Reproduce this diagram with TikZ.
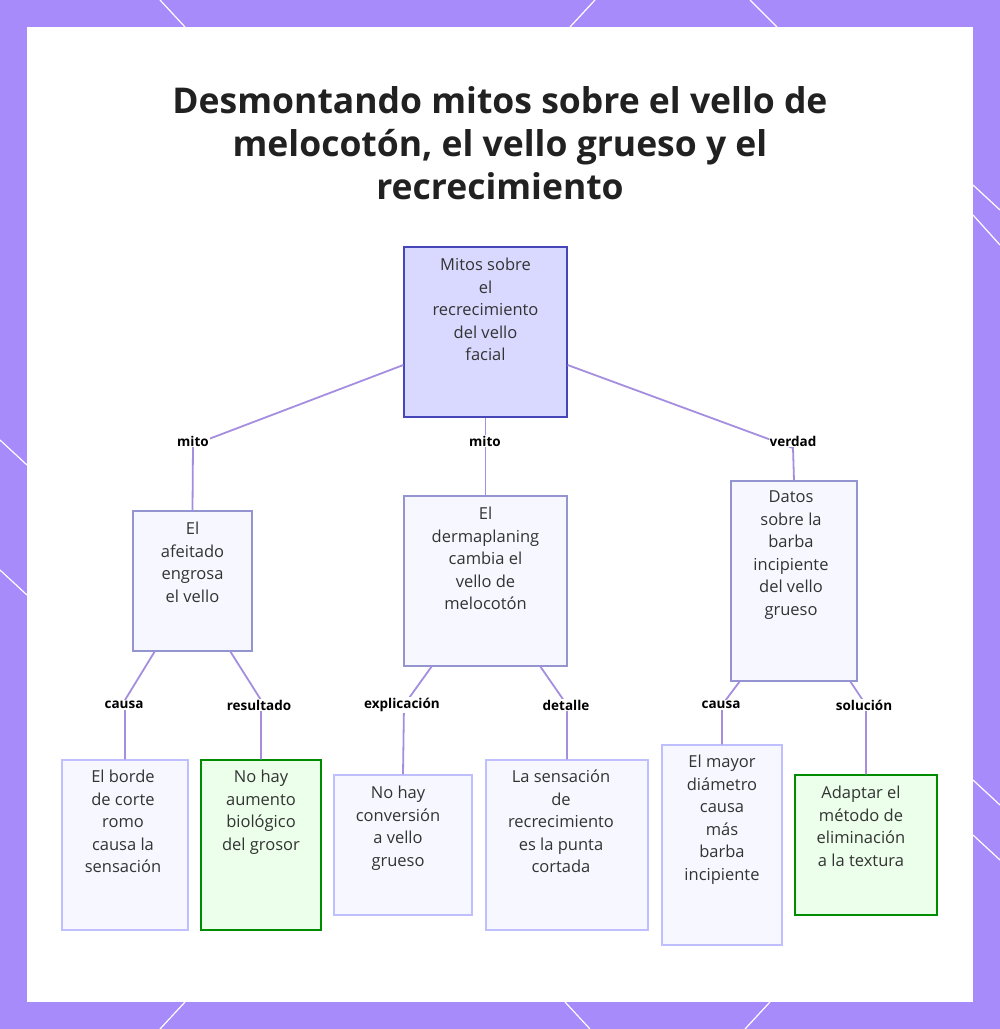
\documentclass[tikz,border=0pt]{standalone}
\usepackage{fontspec}
\setmainfont{Open Sans}
\definecolor{edc}{HTML}{A58EE0}
\definecolor{frame}{HTML}{A78BFA}
\begin{document}
\begin{tikzpicture}[x=1pt,y=-1pt,
 box/.style={draw=#1,line width=1.3pt,inner sep=0pt},
 blue/.style={box=blue!40!gray!60,fill=blue!3},
 green/.style={box=green!55!black,fill=green!8},
 leafb/.style={box=blue!25,fill=blue!3},
 tx/.style={font=\fontsize{16.5}{22.5}\selectfont,text=black!80,align=center,anchor=north,inner sep=0pt},
 ed/.style={draw=edc,line width=1.8pt},
 lab/.style={font=\bfseries\fontsize{13.5}{16}\selectfont,fill=white,inner sep=1pt}]
\fill[frame] (0,0) rectangle (1000,1029);
\useasboundingbox (0,0) rectangle (1000,1029);
\foreach \a/\b/\c/\d in {160/0/185/27, 570/27/595/0, 750/0/777/27, 973/185/1000/210, 973/215/1000/245, 973/780/1000/805, 973/835/1000/860, 0/440/27/465, 0/570/27/595, 160/1029/185/1002, 565/1002/590/1029, 745/1029/770/1002}
 \draw[white,line width=1.2pt] (\a,\b) -- (\c,\d);
\fill[white] (27,27) rectangle (973,1002);
\node[font=\bfseries\fontsize{35.5}{43}\selectfont,text=black!87,align=center] (title) at (500,143) {Desmontando mitos sobre el vello de\\melocotón, el vello grueso y el\\recrecimiento};
\node[box=blue!45!gray,fill=blue!15,minimum width=163,minimum height=170] (root) at (485.5,332) {};
\node[tx] at (485.5,258) {Mitos sobre\\el\\recrecimiento\\del vello\\facial};
\node[blue,minimum width=119,minimum height=140] (A) at (192.5,581) {};
\node[tx] at (192.5,522) {El\\afeitado\\engrosa\\el vello};
\node[blue,minimum width=163,minimum height=170] (B) at (485.5,581) {};
\node[tx] at (485.5,507) {El\\dermaplaning\\cambia el\\vello de\\melocotón};
\node[blue,minimum width=126,minimum height=200] (C) at (794,581) {};
\node[tx] at (791,491) {Datos\\sobre la\\barba\\incipiente\\del vello\\grueso};
\node[leafb,minimum width=126,minimum height=170] (L1) at (125,845) {};
\node[tx] at (123,770) {El borde\\de corte\\romo\\causa la\\sensación};
\node[green,minimum width=120,minimum height=170] (L2) at (261,845) {};
\node[tx] at (261,770) {No hay\\aumento\\biológico\\del grosor};
\node[leafb,minimum width=138,minimum height=140] (L3) at (403,845) {};
\node[tx] at (398,786) {No hay\\conversión\\a vello\\grueso};
\node[leafb,minimum width=162,minimum height=170] (L4) at (567,845) {};
\node[tx] at (561,770) {La sensación\\de\\recrecimiento\\es la punta\\cortada};
\node[leafb,minimum width=120,minimum height=200] (L5) at (722,845) {};
\node[tx] at (722,755) {El mayor\\diámetro\\causa\\más\\barba\\incipiente};
\node[green,minimum width=142,minimum height=140] (L6) at (866,845) {};
\node[tx] at (861,786) {Adaptar el\\método de\\eliminación\\a la textura};
\draw[ed] (root.west|-0,365) -- (193,445) -- (A.north);
\draw[ed] (root.south) -- (B.north);
\draw[ed] (root.east|-0,365) -- (793,448) -- (C.north);
\draw[ed] (155,651) -- (125,700) -- (L1.north);
\draw[ed] (230,651) -- (261,700) -- (L2.north);
\draw[ed] (432,666) -- (404,705) -- (L3.north);
\draw[ed] (540,666) -- (567,705) -- (L4.north);
\draw[ed] (740,681) -- (722,705) -- (L5.north);
\draw[ed] (850,681) -- (866,705) -- (L6.north);
\node[lab] (m1) at (193,441) {mito};
\node[lab] (m2) at (485,441) {mito};
\node[lab] (m3) at (793,441) {verdad};
\node[lab] (c1) at (124,705) {causa};
\node[lab] (c2) at (259,705) {resultado};
\node[lab] (c3) at (402,705) {explicación};
\node[lab] (c4) at (566,705) {detalle};
\node[lab] (c5) at (721,705) {causa};
\node[lab] (c6) at (864,705) {solución};
\end{tikzpicture}
\end{document}
